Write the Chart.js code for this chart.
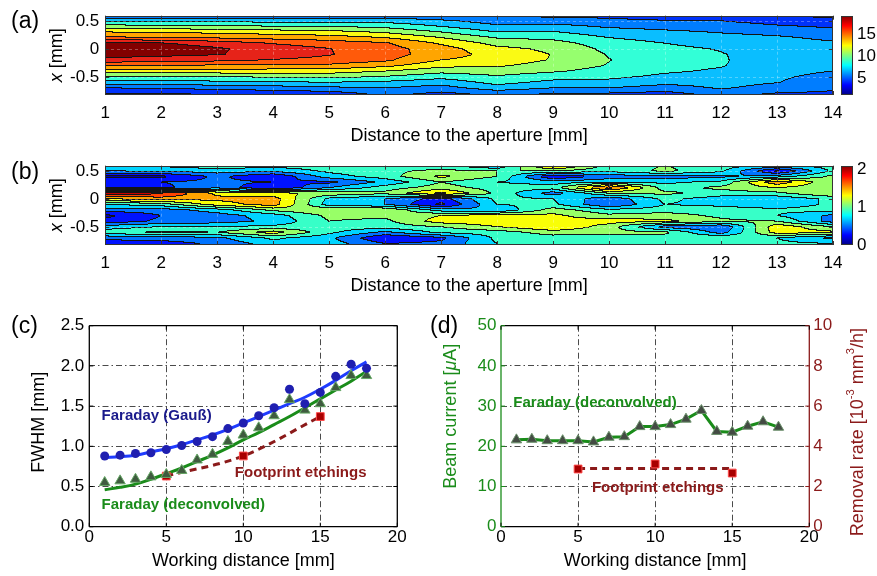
<!DOCTYPE html>
<html>
<head>
<meta charset="utf-8">
<script src="https://cdn.jsdelivr.net/npm/chart.js@4.4.1/dist/chart.umd.min.js"></script>
<style>
  body { margin: 0; background: #fff; width: 877px; height: 576px; position: relative; overflow: hidden;
         font-family: "Liberation Sans", Arial, Helvetica, sans-serif; }
  canvas { position: absolute; }
  .tag { position: absolute; font-size: 23px; line-height: 1; color: #000; }
</style>
</head>
<body>
<canvas id="cA" width="877" height="150" style="left:0;top:0"></canvas>
<canvas id="cB" width="877" height="150" style="left:0;top:150px"></canvas>
<canvas id="cC" width="440" height="276" style="left:0;top:300px"></canvas>
<canvas id="cD" width="447" height="276" style="left:430px;top:300px"></canvas>
<div class="tag" style="left:11px;top:9px">(a)</div>
<div class="tag" style="left:11px;top:160px">(b)</div>
<div class="tag" style="left:11px;top:314px">(c)</div>
<div class="tag" style="left:430px;top:314px">(d)</div>
<script>
/* =======================
   DATA
======================= */
// map grid: columns along the distance axis, rows from top (x = 0.6 mm) downwards
const mapX = [1, 2, 3, 4, 5, 6, 7, 8, 9, 10, 11, 12, 13, 14];
const mapY = [0.6, 0.5, 0.4, 0.3, 0.2, 0.1, 0, -0.1, -0.2, -0.3, -0.4, -0.5, -0.6, -0.7, -0.8, -0.9];
const mapYTicks = [-0.5, 0, 0.5];

// (a) current density, one profile per distance
const profileA = [
  [5.3, 8.3, 10.6, 13.0, 14.7, 18.0, 18.6, 18.2, 17.0, 14.5, 12.2, 9.8, 7.9, 5.5, 3.9, 3.0],
  [5.3, 8.2, 10.5, 12.9, 14.6, 17.6, 18.2, 17.9, 16.8, 14.4, 12.3, 9.9, 8.0, 5.7, 4.0, 3.1],
  [5.3, 8.1, 10.3, 12.6, 14.3, 16.9, 17.7, 17.6, 16.4, 14.3, 12.3, 10.0, 8.1, 6.0, 4.2, 3.2],
  [5.4, 8.0, 10.1, 12.3, 14.0, 15.9, 16.8, 16.9, 15.9, 14.2, 12.3, 10.2, 8.3, 6.3, 4.5, 3.4],
  [5.6, 8.0, 10.0, 12.0, 13.7, 15.3, 16.05, 16.1, 15.5, 14.2, 12.2, 10.4, 8.5, 6.7, 4.8, 3.8],
  [6.0, 8.0, 9.6, 11.3, 13.0, 14.7, 15.1, 15.1, 14.8, 13.4, 11.5, 9.9, 8.2, 7.0, 6.0, 5.0],
  [5.5, 7.3, 8.5, 10.0, 11.5, 12.8, 13.7, 13.8, 13.0, 11.9, 10.5, 9.0, 7.6, 6.4, 5.2, 4.3],
  [5.2, 6.3, 7.3, 8.5, 9.9, 11.0, 11.9, 12.4, 12.3, 11.7, 10.8, 9.8, 9.0, 7.8, 6.0, 4.8],
  [5.1, 6.3, 7.5, 8.6, 9.6, 10.6, 11.2, 11.45, 11.4, 10.9, 10.2, 9.1, 8.1, 7.0, 5.5, 4.4],
  [5.0, 5.9, 6.8, 7.7, 8.5, 9.2, 9.6, 9.9, 10.05, 9.9, 9.4, 8.8, 8.1, 7.0, 5.4, 4.3],
  [4.6, 5.6, 6.5, 7.3, 7.9, 8.5, 8.9, 9.1, 9.2, 9.0, 8.7, 8.2, 7.4, 6.4, 5.0, 4.0],
  [4.5, 5.5, 6.3, 6.9, 7.5, 7.9, 8.4, 8.6, 8.65, 8.6, 8.3, 7.9, 7.5, 7.15, 6.2, 5.0],
  [3.8, 4.9, 5.7, 6.6, 7.2, 7.5, 7.6, 7.7, 7.7, 7.6, 7.4, 7.2, 7.05, 6.5, 5.4, 4.5],
  [3.6, 4.6, 5.3, 6.0, 6.7, 7.2, 7.4, 7.5, 7.4, 7.25, 7.0, 6.6, 6.2, 5.8, 5.2, 4.4]
];
const levelsA = [2.5, 4, 5.5, 7, 8.5, 10, 11.5, 13, 14.5, 16, 17.5];
const rangeA = [1.3, 19.3];
const barTicksA = [5, 10, 15];

// (b) ratio map
const profileB = [
  [0.75, 0.6, 0.15, 0.35, 0.3, 1.9, 1.4, 0.8, 0.5, 0.15, 0.25, 0.7, 0.9, 0.45, 0.3, 0.3],
  [0.85, 0.65, 0.15, 0.4, 0.35, 1.85, 1.5, 0.9, 0.5, 0.4, 0.45, 0.8, 1.05, 0.5, 0.3, 0.3],
  [0.95, 0.7, 0.45, 0.45, 0.55, 1.35, 1.45, 1.3, 0.7, 0.5, 0.5, 0.8, 1.0, 0.55, 0.45, 0.4],
  [0.9, 0.65, 0.2, 0.4, 0.18, 1.25, 1.5, 1.5, 1.05, 0.7, 0.65, 0.85, 1.3, 0.85, 0.7, 0.6],
  [0.9, 0.85, 0.7, 0.35, 0.6, 1.15, 0.75, 0.7, 1.2, 1.05, 1.0, 0.9, 0.85, 0.65, 0.7, 0.7],
  [0.9, 0.95, 0.9, 0.65, 0.9, 1.05, 0.6, 0.6, 1.2, 1.05, 0.95, 0.9, 0.55, 0.2, 0.4, 0.5],
  [0.85, 1.05, 1.25, 1.0, 1.1, 1.45, 0.3, 0.15, 0.7, 1.2, 1.3, 1.0, 0.85, 0.35, 0.45, 0.5],
  [0.55, 1.0, 1.0, 0.8, 0.9, 0.95, 0.85, 0.8, 0.6, 1.3, 1.35, 1.2, 0.9, 0.85, 0.8, 0.8],
  [1.6, 1.0, 0.2, 0.7, 0.9, 0.5, 0.8, 0.85, 1.1, 1.25, 1.25, 1.4, 1.1, 0.9, 0.85, 0.8],
  [0.9, 0.85, 0.5, 0.75, 1.7, 1.0, 0.45, 0.4, 0.85, 1.05, 1.3, 1.1, 1.05, 0.9, 0.85, 0.8],
  [1.0, 1.05, 0.5, 0.75, 0.9, 1.05, 0.85, 0.8, 0.9, 1.1, 1.25, 0.5, 1.05, 0.9, 0.85, 0.85],
  [0.9, 0.85, 0.55, 0.85, 1.05, 0.9, 0.7, 0.75, 0.9, 0.95, 1.05, 0.4, 0.5, 1.0, 0.9, 0.9],
  [0.85, 0.15, 0.7, 1.55, 1.2, 0.95, 0.65, 0.65, 0.85, 0.8, 1.0, 1.35, 1.3, 0.8, 0.85, 0.85],
  [0.9, 0.85, 1.05, 1.0, 1.05, 1.2, 0.85, 0.85, 0.9, 0.55, 0.5, 1.0, 1.25, 0.55, 0.8, 0.8]
];
const levelsB = [0.2, 0.4, 0.6, 0.8, 1.0, 1.2, 1.4, 1.6, 1.8];
const rangeB = [0, 2.1];
const barTicksB = [0, 1, 2];

// (c) + (d) working distance series
const wd = [1, 2, 3, 4, 5, 6, 7, 8, 9, 10, 11, 12, 13, 14, 15, 16, 17, 18];
const gaussFwhm = [0.88, 0.89, 0.91, 0.92, 0.96, 1.01, 1.06, 1.12, 1.22, 1.29, 1.38, 1.48, 1.71, 1.53, 1.67, 1.87, 2.02, 1.97];
const gaussFit = [0.86, 0.87, 0.89, 0.93, 0.97, 1.02, 1.08, 1.14, 1.21, 1.29, 1.37, 1.45, 1.53, 1.61, 1.71, 1.82, 1.94, 2.05];
const deconvFwhm = [0.55, 0.57, 0.59, 0.62, 0.65, 0.70, 0.83, 0.90, 1.06, 1.14, 1.23, 1.38, 1.58, 1.45, 1.53, 1.73, 1.88, 1.88];
const deconvFit = [0.46, 0.49, 0.53, 0.59, 0.66, 0.73, 0.81, 0.89, 0.98, 1.08, 1.17, 1.27, 1.37, 1.48, 1.59, 1.70, 1.81, 1.93];
const etchWd = [5, 10, 15];
const etchFwhm = [0.63, 0.88, 1.37];

const beamCurrent = [21.6, 21.75, 21.4, 21.4, 21.4, 21.1, 22.25, 22.4, 24.9, 24.9, 25.4, 26.75, 28.9, 23.7, 23.5, 25.0, 26.1, 24.75];
const removalRate = [2.87, 3.12, 2.67];
const removalMeanWd = [5, 15];
const removalMean = [2.9, 2.9];

const notesC = [
  { text: "Faraday (Gauß)", x: 0.8, y: 1.38, color: "#1a1a8c" },
  { text: "Footprint etchings", x: 9.45, y: 0.67, color: "#8b1a1a" },
  { text: "Faraday (deconvolved)", x: 0.8, y: 0.27, color: "#1a8c1a" }
];
const notesD = [
  { text: "Faraday (deconvolved)", x: 0.8, y: 30.8, color: "#1a8c1a" },
  { text: "Footprint etchings", x: 5.9, y: 9.6, color: "#8b1a1a" }
];

/* =======================
   HELPERS
======================= */
const FONT = '"Liberation Sans", Arial, Helvetica, sans-serif';
Chart.defaults.font.family = FONT;
Chart.defaults.color = "#000";
Chart.defaults.animation = false;
Chart.defaults.events = [];
Chart.defaults.plugins.legend.display = false;
Chart.defaults.plugins.tooltip.enabled = false;

const GREEN = "#1a8c1a";
const DARKRED = "#8b1a1a";

// fill colours of the (a) contour bands, lowest band first
const bandColorsA = [
  [0, 0, 130], [0, 0, 205], [0, 50, 250], [0, 125, 255], [10, 190, 255], [50, 255, 215],
  [150, 255, 110], [250, 250, 20], [255, 165, 0], [255, 90, 10], [230, 35, 25], [130, 0, 0]
];

function pts(xs, ys) {
  return xs.map((x, i) => ({ x: x, y: ys[i] }));
}

function jet(t) {
  t = Math.min(1, Math.max(0, t));
  const c = k => Math.round(255 * Math.min(1, Math.max(0, 1.5 - Math.abs(4 * t - k))));
  return [c(3), c(2), c(1)];
}

// bilinear lookup in a column-major grid
function sampleGrid(cols, rows, grid, xv, yv) {
  let i = 0;
  while (i < cols.length - 2 && xv > cols[i + 1]) i++;
  let j = 0;
  while (j < rows.length - 2 && yv < rows[j + 1]) j++;
  const fx = Math.min(1, Math.max(0, (xv - cols[i]) / (cols[i + 1] - cols[i])));
  const fy = Math.min(1, Math.max(0, (rows[j] - yv) / (rows[j] - rows[j + 1])));
  const a = grid[i][j], b = grid[i + 1][j], c = grid[i][j + 1], d = grid[i + 1][j + 1];
  return (a * (1 - fx) + b * fx) * (1 - fy) + (c * (1 - fx) + d * fx) * fy;
}

// text with italic / superscript pieces, optionally rotated to read upwards
function richText(ctx, segs, cx, cy, size, color, rotate) {
  ctx.save();
  ctx.translate(cx, cy);
  if (rotate) ctx.rotate(-Math.PI / 2);
  ctx.fillStyle = color;
  ctx.textBaseline = "middle";
  ctx.textAlign = "left";
  const fontOf = s => (s.italic ? "italic " : "") + (s.sup ? size * 0.62 : size) + "px " + FONT;
  let total = 0;
  segs.forEach(s => { ctx.font = fontOf(s); total += ctx.measureText(s.t).width; });
  let x = -total / 2;
  segs.forEach(s => {
    ctx.font = fontOf(s);
    ctx.fillText(s.t, x, s.sup ? -size * 0.38 : 0);
    x += ctx.measureText(s.t).width;
  });
  ctx.restore();
}

// keep vertical axes from pushing the plot area down
function fixWidth(w) {
  return s => { s.width = w; s.paddingTop = 0; s.paddingBottom = 0; };
}

/* =======================
   FILLED CONTOUR MAPS
======================= */
function mapPlugin(grid, levels, range, bandColors, yTitle) {
  const [cmin, cmax] = range;
  let bandRgb = bandColors;
  if (!bandRgb) {
    bandRgb = [];
    for (let k = 0; k <= levels.length; k++) {
      const lo = k === 0 ? cmin : levels[k - 1];
      const hi = k === levels.length ? cmax : levels[k];
      bandRgb.push(jet(((lo + hi) / 2 - cmin) / (cmax - cmin)));
    }
  }
  return {
    id: "map",
    beforeDraw(chart) {
      const { ctx, chartArea: ar, scales } = chart;
      const x0 = Math.round(ar.left), y0 = Math.round(ar.top);
      const w = Math.round(ar.right) - x0, h = Math.round(ar.bottom) - y0;
      const band = new Uint8Array(w * h);
      for (let j = 0; j < h; j++) {
        const yv = scales.y.getValueForPixel(y0 + j + 0.5);
        for (let i = 0; i < w; i++) {
          const v = sampleGrid(mapX, mapY, grid, scales.x.getValueForPixel(x0 + i + 0.5), yv);
          let k = 0;
          while (k < levels.length && v >= levels[k]) k++;
          band[j * w + i] = k;
        }
      }
      const img = ctx.createImageData(w, h);
      for (let p = 0; p < w * h; p++) {
        const i = p % w, j = (p - i) / w;
        const edge = (i < w - 1 && band[p] !== band[p + 1]) || (j < h - 1 && band[p] !== band[p + w]);
        const c = edge ? [20, 20, 20] : bandRgb[band[p]];
        img.data[p * 4] = c[0];
        img.data[p * 4 + 1] = c[1];
        img.data[p * 4 + 2] = c[2];
        img.data[p * 4 + 3] = 255;
      }
      ctx.putImageData(img, x0, y0);
    },
    afterDraw(chart) {
      const { ctx, chartArea: ar, scales } = chart;
      const cb = scales.cb;
      const top = Math.round(cb.getPixelForValue(cmax)), bot = Math.round(cb.getPixelForValue(cmin));
      const left = Math.round(ar.right) + 8, bw = 12;
      for (let py = top; py < bot; py++) {
        const t = (cb.getValueForPixel(py + 0.5) - cmin) / (cmax - cmin);
        ctx.fillStyle = "rgb(" + jet(t) + ")";
        ctx.fillRect(left, py, bw, 1);
      }
      ctx.save();
      ctx.strokeStyle = "#333";
      ctx.lineWidth = 1;
      ctx.strokeRect(left + 0.5, top + 0.5, bw - 1, bot - top - 1);
      ctx.strokeRect(Math.round(ar.left) + 0.5, Math.round(ar.top) + 0.5,
        Math.round(ar.right) - Math.round(ar.left) - 1, Math.round(ar.bottom) - Math.round(ar.top) - 1);
      // inward tick marks
      ctx.beginPath();
      scales.x.ticks.forEach(t => {
        const px = Math.round(scales.x.getPixelForValue(t.value)) + 0.5;
        ctx.moveTo(px, ar.bottom); ctx.lineTo(px, ar.bottom - 4);
        ctx.moveTo(px, ar.top); ctx.lineTo(px, ar.top + 4);
      });
      scales.y.ticks.forEach(t => {
        const py = Math.round(scales.y.getPixelForValue(t.value)) + 0.5;
        ctx.moveTo(ar.left, py); ctx.lineTo(ar.left + 4, py);
        ctx.moveTo(ar.right, py); ctx.lineTo(ar.right - 4, py);
      });
      ctx.stroke();
      ctx.restore();
      richText(ctx, yTitle, 57, (ar.top + ar.bottom) / 2, 18, "#000", true);
    }
  };
}

function mapChart(id, grid, levels, range, barTicks, bandColors) {
  return new Chart(document.getElementById(id), {
    type: "scatter",
    data: { datasets: [{ data: [] }] },
    options: {
      responsive: false,
      devicePixelRatio: 1,
      layout: { padding: { top: 15.7, left: 0, right: 0, bottom: 0 } },
      scales: {
        x: {
          type: "linear", min: 1, max: 14,
          afterFit: s => { s.height = 55; },
          ticks: { stepSize: 1, padding: 8.5, font: { size: 17 } },
          grid: { color: "rgba(255,255,255,0.3)", drawTicks: false },
          border: { display: false, dash: [3, 3] },
          title: { display: true, text: "Distance to the aperture [mm]", font: { size: 18 }, padding: { top: 0, bottom: 3 } }
        },
        y: {
          type: "linear", min: -0.82, max: 0.6,
          afterFit: fixWidth(105.3),
          afterBuildTicks: s => { s.ticks = mapYTicks.map(v => ({ value: v })); },
          ticks: { padding: 6, font: { size: 17 } },
          grid: { color: "rgba(255,255,255,0.3)", drawTicks: false },
          border: { display: false, dash: [3, 3] }
        },
        cb: {
          type: "linear", position: "right", min: range[0], max: range[1],
          afterFit: fixWidth(44),
          afterBuildTicks: s => { s.ticks = barTicks.map(v => ({ value: v })); },
          ticks: { padding: 24, font: { size: 17 } },
          grid: { display: false, drawTicks: false },
          border: { display: false }
        }
      }
    },
    plugins: [mapPlugin(grid, levels, range, bandColors, [{ t: "x", italic: true }, { t: " [mm]" }])]
  });
}

mapChart("cA", profileA, levelsA, rangeA, barTicksA, bandColorsA);
mapChart("cB", profileB, levelsB, rangeB, barTicksB, null);

/* =======================
   LINE PANELS
======================= */
function innerGrid(min, max) {
  return {
    color: c => (c.tick && (c.tick.value <= min || c.tick.value >= max)) ? "rgba(0,0,0,0)" : "#4a4a4a",
    lineWidth: 1,
    drawTicks: false
  };
}
const DASHDOT = [6, 3, 1.5, 3];

function framePlugin(leftColor, rightColor, titles, notes) {
  return {
    id: "frame",
    afterDatasetsDraw(chart) {
      const { ctx, scales } = chart;
      ctx.save();
      ctx.font = "bold 15px " + FONT;
      ctx.textBaseline = "middle";
      ctx.textAlign = "left";
      notes.forEach(n => {
        ctx.fillStyle = n.color;
        ctx.fillText(n.text, scales.x.getPixelForValue(n.x), scales.y.getPixelForValue(n.y));
      });
      ctx.restore();
    },
    afterDraw(chart) {
      const { ctx, chartArea: ar, scales } = chart;
      ctx.save();
      ctx.lineWidth = 1.3;
      const side = (color, x1, y1, x2, y2) => {
        ctx.strokeStyle = color;
        ctx.beginPath(); ctx.moveTo(x1, y1); ctx.lineTo(x2, y2); ctx.stroke();
      };
      side("#000", ar.left, ar.top, ar.right, ar.top);
      side("#000", ar.left, ar.bottom, ar.right, ar.bottom);
      side(leftColor, ar.left, ar.top, ar.left, ar.bottom);
      side(rightColor, ar.right, ar.top, ar.right, ar.bottom);
      ctx.lineWidth = 1;
      scales.x.ticks.forEach(t => {
        const px = scales.x.getPixelForValue(t.value);
        side("#000", px, ar.bottom, px, ar.bottom - 4);
        side("#000", px, ar.top, px, ar.top + 4);
      });
      scales.y.ticks.forEach(t => {
        const py = scales.y.getPixelForValue(t.value);
        side(leftColor, ar.left, py, ar.left + 4, py);
      });
      const rScale = scales.y2 || scales.y;
      rScale.ticks.forEach(t => {
        const py = rScale.getPixelForValue(t.value);
        side(rightColor, ar.right, py, ar.right - 4, py);
      });
      ctx.restore();
      const cy = (ar.top + ar.bottom) / 2;
      titles.forEach(tt => richText(ctx, tt.segs, tt.x, cy + tt.dy, 18, tt.color, true));
    }
  };
}

// (c) beam width
new Chart(document.getElementById("cC"), {
  type: "scatter",
  data: {
    datasets: [
      { data: pts(wd, gaussFwhm), pointStyle: "circle", pointRadius: 4.5, backgroundColor: "#1f1fb0", borderWidth: 0, order: 1 },
      { data: pts(wd, deconvFwhm), pointStyle: "triangle", pointRadius: 6, backgroundColor: "#3f5b3f", borderColor: "#66a866", borderWidth: 1, order: 1 },
      { data: pts(etchWd, etchFwhm), showLine: true, cubicInterpolationMode: "monotone", borderColor: DARKRED, borderWidth: 3, borderDash: [7, 5],
        pointStyle: "rect", pointRadius: 5.5, pointBackgroundColor: "#a80000", pointBorderColor: "#ff4a4a", pointBorderWidth: 1, order: 1 },
      { data: pts(wd, gaussFit), showLine: true, tension: 0.4, pointRadius: 0, borderColor: "#1f3cff", borderWidth: 3, order: 2 },
      { data: pts(wd, deconvFit), showLine: true, tension: 0.4, pointRadius: 0, borderColor: GREEN, borderWidth: 3, order: 2 }
    ]
  },
  options: {
    responsive: false,
    devicePixelRatio: 1,
    layout: { padding: { top: 25.7, right: 42.7, left: 0, bottom: 0 } },
    scales: {
      x: {
        type: "linear", min: 0, max: 20,
        afterFit: s => { s.height = 49.3; },
        ticks: { stepSize: 5, padding: 0, font: { size: 17 } },
        grid: innerGrid(0, 20),
        border: { display: false, dash: DASHDOT },
        title: { display: true, text: "Working distance [mm]", font: { size: 18 }, padding: { top: 0, bottom: 4 } }
      },
      y: {
        type: "linear", min: 0, max: 2.5,
        afterFit: fixWidth(89.3),
        ticks: { stepSize: 0.5, padding: 5, font: { size: 17 }, callback: v => v.toFixed(1) },
        grid: innerGrid(0, 2.5),
        border: { display: false, dash: DASHDOT }
      }
    }
  },
  plugins: [framePlugin("#000", "#000", [{ segs: [{ t: "FWHM [mm]" }], x: 39, dy: -4, color: "#000" }], notesC)]
});

// (d) beam current and removal rate
new Chart(document.getElementById("cD"), {
  type: "scatter",
  data: {
    datasets: [
      { data: pts(removalMeanWd, removalMean), yAxisID: "y2", showLine: true, pointRadius: 0, borderColor: DARKRED, borderWidth: 3, borderDash: [7, 5], order: 2 },
      { data: pts(etchWd, removalRate), yAxisID: "y2", pointStyle: "rect", pointRadius: 5.5, backgroundColor: "#a80000", borderColor: "#ff4a4a", borderWidth: 1, order: 1 },
      { data: pts(wd, beamCurrent), yAxisID: "y", showLine: true, borderColor: GREEN, borderWidth: 3,
        pointStyle: "triangle", pointRadius: 6, pointBackgroundColor: "#434b43", pointBorderColor: "#6a906a", pointBorderWidth: 1, order: 1 }
    ]
  },
  options: {
    responsive: false,
    devicePixelRatio: 1,
    layout: { padding: { top: 25.7, right: 0, left: 0, bottom: 0 } },
    scales: {
      x: {
        type: "linear", min: 0, max: 20,
        afterFit: s => { s.height = 49.3; },
        ticks: { stepSize: 5, padding: 0, font: { size: 17 } },
        grid: innerGrid(0, 20),
        border: { display: false, dash: DASHDOT },
        title: { display: true, text: "Working distance [mm]", font: { size: 18 }, padding: { top: 0, bottom: 4 } }
      },
      y: {
        type: "linear", position: "left", min: 0, max: 50,
        afterFit: fixWidth(71),
        ticks: { stepSize: 10, padding: 4.5, color: GREEN, font: { size: 17 } },
        grid: innerGrid(0, 50),
        border: { display: false, dash: DASHDOT }
      },
      y2: {
        type: "linear", position: "right", min: 0, max: 10,
        afterFit: fixWidth(67.7),
        ticks: { stepSize: 2, padding: 4, color: DARKRED, font: { size: 17 } },
        grid: { display: false, drawTicks: false },
        border: { display: false }
      }
    }
  },
  plugins: [framePlugin(GREEN, DARKRED, [
    { segs: [{ t: "Beam current [" }, { t: "μ", italic: true }, { t: "A]" }], x: 20.7, dy: -10, color: GREEN },
    { segs: [{ t: "Removal rate [10" }, { t: "-3", sup: true }, { t: " mm" }, { t: "3", sup: true }, { t: "/h]" }], x: 428, dy: 6, color: DARKRED }
  ], notesD)]
});
</script>
</body>
</html>
